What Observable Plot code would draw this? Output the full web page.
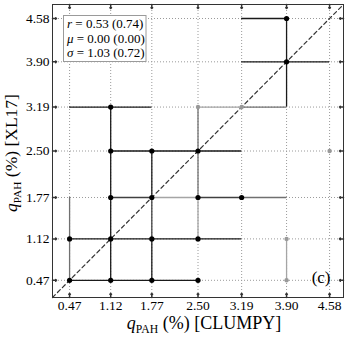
<!DOCTYPE html>
<html><head><meta charset="utf-8">
<script src="https://cdn.jsdelivr.net/npm/d3@7"></script>
<script src="https://cdn.jsdelivr.net/npm/@observablehq/plot@0.6"></script>
<style>body{margin:0;background:#fff} svg{display:block}</style>
</head><body><div id="chart"></div>
<script>
// ---- data ----
const tickValues = [0.47, 1.12, 1.77, 2.50, 3.19, 3.90, 4.58];
const axisDomain = [0.2, 4.8];

// points: q_PAH CLUMPY (x) vs q_PAH XL17 (y)
const strongX = [0.47, 0.47, 1.12, 1.12, 1.12, 1.12, 1.12, 1.77, 1.77, 1.77, 1.77, 2.50, 2.50, 2.50, 2.50, 3.19, 3.90, 3.90];
const strongY = [0.47, 1.12, 0.47, 1.12, 1.77, 2.50, 3.19, 0.47, 1.12, 1.77, 2.50, 0.47, 1.12, 1.77, 2.50, 1.77, 3.90, 4.58];
const weakX = [2.50, 3.19, 3.90, 3.90, 4.58];
const weakY = [3.19, 3.19, 0.47, 1.12, 2.50];

// horizontal error-bar segments (y, x from, x to, shade)
const hY  = [4.58, 3.90, 3.19, 3.19, 3.19, 2.50, 1.77, 1.77, 1.77, 1.77, 1.12, 0.47];
const hX1 = [3.19, 3.19, 0.47, 2.50, 3.19, 1.12, 1.12, 1.77, 2.50, 3.19, 0.47, 0.47];
const hX2 = [3.90, 4.58, 1.77, 3.19, 3.90, 3.19, 1.77, 2.50, 3.19, 3.90, 3.19, 2.50];
const hShade = ["dark", "dark", "dark", "light", "mid", "dark", "darkgray", "light", "darkgray", "mid", "dark", "dark"];

// vertical error-bar segments (x, y from, y to, shade)
const vX  = [0.47, 1.12, 1.77, 1.77, 1.77, 2.50, 2.50, 3.90, 3.90];
const vY1 = [0.47, 0.47, 0.47, 1.12, 1.77, 1.77, 1.12, 3.19, 0.47];
const vY2 = [1.77, 3.19, 1.12, 1.77, 2.50, 3.19, 1.77, 4.58, 1.12];
const vShade = ["mid", "dark", "dark", "darkgray", "dark", "mid", "light", "dark", "light"];

const statSymbols = ["r", "\u03bc", "\u03c3"];
const statValues = [" = 0.53 (0.74)", " = 0.00 (0.00)", " = 1.03 (0.72)"];
const panelLabel = "(c)";

// ---- build tables ----
const shadeOrder = ["light", "mid", "darkgray", "dark"];
const shadeColor = {light: "#a5a5a5", mid: "#707070", darkgray: "#404040", dark: "#1a1a1a"};
const hBars = hY.map((y, i) => ({y, x1: hX1[i], x2: hX2[i], shade: hShade[i]}));
const vBars = vX.map((x, i) => ({x, y1: vY1[i], y2: vY2[i], shade: vShade[i]}));
const strong = strongX.map((x, i) => ({x, y: strongY[i]}));
const weak = weakX.map((x, i) => ({x, y: weakY[i]}));

const barMarks = [];
for (const s of shadeOrder) {
  barMarks.push(Plot.ruleY(hBars.filter(d => d.shade === s), {y: "y", x1: "x1", x2: "x2", stroke: shadeColor[s], strokeWidth: 1.3}));
  barMarks.push(Plot.ruleX(vBars.filter(d => d.shade === s), {x: "x", y1: "y1", y2: "y2", stroke: shadeColor[s], strokeWidth: 1.3}));
}

const fmt = d => d.toFixed(2);
const plot = Plot.plot({
  width: 349, height: 340,
  marginLeft: 52, marginRight: 6, marginTop: 4, marginBottom: 43,
  x: {domain: axisDomain, label: null},
  y: {domain: axisDomain, label: null},
  style: {fontFamily: "'Liberation Serif', 'DejaVu Serif', serif", fontSize: "13.5px", background: "white", color: "black"},
  marks: [
    Plot.gridX(tickValues, {stroke: "#9a9a9a", strokeOpacity: 1, strokeDasharray: "1,2"}),
    Plot.gridY(tickValues, {stroke: "#9a9a9a", strokeOpacity: 1, strokeDasharray: "1,2"}),
    Plot.line(axisDomain, {x: d => d, y: d => d, stroke: "#333", strokeWidth: 1.2, strokeDasharray: "4,3"}),
    ...barMarks,
    Plot.dot(weak, {x: "x", y: "y", r: 2.2, fill: "#999", stroke: "none"}),
    Plot.dot(strong, {x: "x", y: "y", r: 2.6, fill: "black", stroke: "none"}),
    Plot.frame({stroke: "#333", strokeWidth: 1}),
    Plot.vector(tickValues, {x: d => d, frameAnchor: "bottom", length: 4, rotate: 0, anchor: "start", stroke: "#333"}),
    Plot.vector(tickValues, {x: d => d, frameAnchor: "top", length: 4, rotate: 180, anchor: "start", stroke: "#333"}),
    Plot.vector(tickValues, {y: d => d, frameAnchor: "left", length: 4, rotate: 90, anchor: "start", stroke: "#333"}),
    Plot.vector(tickValues, {y: d => d, frameAnchor: "right", length: 4, rotate: -90, anchor: "start", stroke: "#333"}),
    Plot.axisX(tickValues, {tickSize: 0, tickPadding: 3, tickFormat: fmt, label: null}),
    Plot.axisY(tickValues, {tickSize: 0, tickPadding: 3, tickFormat: fmt, label: null}),
    Plot.text([panelLabel], {frameAnchor: "bottom-right", dx: -13, dy: -15, fontSize: 17, textAnchor: "end", lineAnchor: "bottom"})
  ]
});
document.getElementById("chart").appendChild(plot);

// ---- rich-text annotations ----
const svg = d3.select(plot);
const ff = "'Liberation Serif', 'DejaVu Serif', serif";

function richLabel(g, main, size) {
  const t = g.append("text").attr("font-family", ff).attr("font-size", size).attr("fill", "black").attr("text-anchor", "middle");
  t.append("tspan").attr("font-style", "italic").text("q");
  t.append("tspan").attr("font-size", size * 0.65).attr("dy", 4).text("PAH");
  t.append("tspan").attr("dy", -4).text(" (%) " + main);
  return t;
}
richLabel(svg.append("g").attr("transform", "translate(204,329)"), "[CLUMPY]", 18);
richLabel(svg.append("g").attr("transform", "translate(17,153) rotate(-90)"), "[XL17]", 17.5);

const box = svg.append("g");
box.append("rect").attr("x", 63.5).attr("y", 15.5).attr("width", 82.5).attr("height", 46)
  .attr("fill", "white").attr("stroke", "#9a9a9a").attr("stroke-width", 1);
statSymbols.forEach((sym, i) => {
  const t = box.append("text").attr("x", 67).attr("y", 28 + i * 14.5)
    .attr("text-anchor", "start")
    .attr("font-family", ff).attr("font-size", 13).attr("fill", "black");
  t.append("tspan").attr("font-style", "italic").text(sym);
  t.append("tspan").text(statValues[i]);
});
</script>
</body></html>
